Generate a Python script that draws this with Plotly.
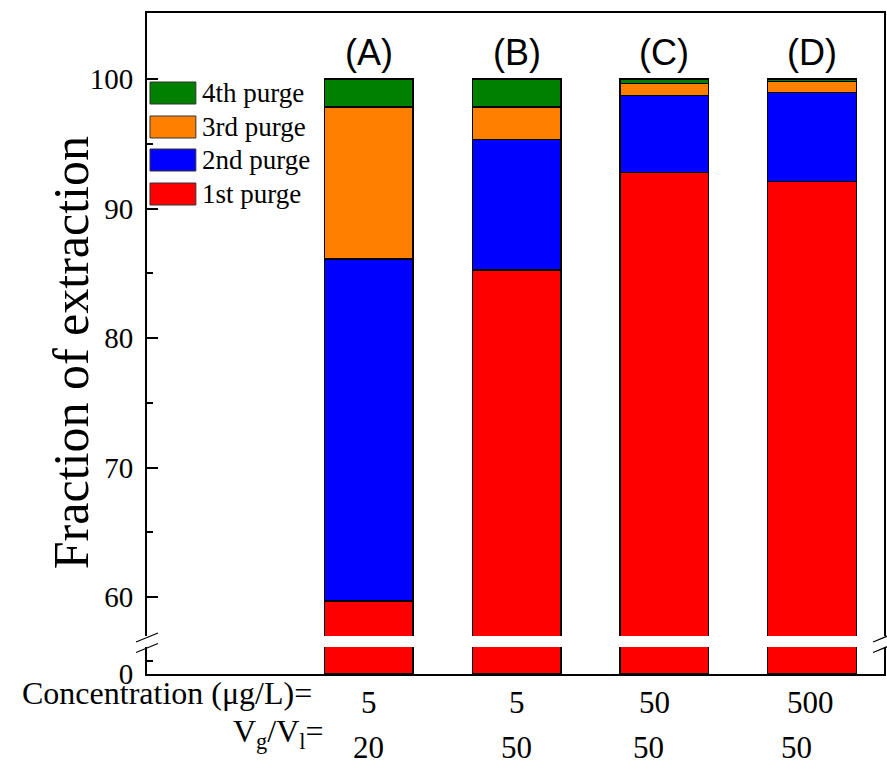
import plotly.graph_objects as go

# Samples and their purge fractions (% of total extracted)
samples = ["(A)", "(B)", "(C)", "(D)"]
concentration = ["5", "5", "50", "500"]
vg_vl = ["20", "50", "50", "50"]

purge_names = ["1st purge", "2nd purge", "3rd purge", "4th purge"]
purge_1 = [59.7, 85.25, 92.8, 92.1]
purge_2 = [26.4, 10.1, 5.95, 6.85]
purge_3 = [11.75, 2.5, 0.92, 0.85]
purge_4 = [2.15, 2.15, 0.33, 0.2]
purge_colors = ["#FF0000", "#0000FF", "#FF8000", "#008000"]

y_ticks_upper = [60, 70, 80, 90, 100]
y_ticks_lower = [0]

x_pos = list(range(1, len(samples) + 1))
purges = [purge_1, purge_2, purge_3, purge_4]

SERIF = "Liberation Serif"
SANS = "Liberation Sans"
W, H = 887, 772
L, R, T, B = 147, 1, 13, 98
PW, PH = W - L - R, H - T - B

def py(pix):
    # pixel row -> paper y
    return (H - B - pix) / PH

def px(pix):
    return (pix - L) / PW

fig = go.Figure()

# upper (broken) panel: full stacks
for name, vals, col in zip(purge_names, purges, purge_colors):
    fig.add_trace(go.Bar(
        x=x_pos, y=vals, name=name, width=0.6,
        marker=dict(color=col, line=dict(color="black", width=1.3)),
        xaxis="x", yaxis="y", showlegend=False,
    ))

# lower panel: only the base segment is visible (0-10 range)
fig.add_trace(go.Bar(
    x=x_pos, y=purge_1, width=0.6,
    marker=dict(color=purge_colors[0], line=dict(color="black", width=1.3)),
    xaxis="x2", yaxis="y2", showlegend=False,
))

lower_top = py(647)
upper_bot = py(636)
xr = [-0.5, 4.486]

axis_common = dict(showgrid=False, zeroline=False, linecolor="black", linewidth=2)

fig.update_layout(
    width=W, height=H,
    margin=dict(l=L, r=R, t=T, b=B),
    paper_bgcolor="white", plot_bgcolor="white",
    barmode="stack", bargap=0.4,
    xaxis=dict(range=xr, domain=[0, 1], anchor="y", side="top", showline=True,
               showticklabels=False, ticks="", **axis_common),
    xaxis2=dict(range=xr, domain=[0, 1], anchor="y2", showline=True,
                showticklabels=False, ticks="", **axis_common),
    yaxis=dict(range=[57, 105.1], domain=[upper_bot, 1], anchor="x",
               showline=True, mirror=True, ticks="inside", ticklen=11, tickwidth=2,
               tickcolor="black", tickvals=y_ticks_upper,
               minor=dict(tickvals=[65, 75, 85, 95], ticks="inside", ticklen=6,
                          tickwidth=2, tickcolor="black"),
               tickfont=dict(family=SERIF, size=29, color="black"),
               ticklabelstandoff=6, **axis_common),
    yaxis2=dict(range=[0, 10], domain=[0, lower_top], anchor="x2",
                showline=True, mirror=True, ticks="inside", ticklen=11, tickwidth=2,
                tickcolor="black", tickvals=y_ticks_lower,
                minor=dict(tickvals=[5], ticks="inside", ticklen=6,
                           tickwidth=2, tickcolor="black"),
                tickfont=dict(family=SERIF, size=29, color="black"),
                ticklabelstandoff=6, **axis_common),
    showlegend=False,
)

ann = []
# sample labels above the bars
for xp, s in zip(x_pos, samples):
    ann.append(dict(x=xp, xref="x", y=py(52), yref="paper", text=s, showarrow=False,
                    xanchor="center", yanchor="middle",
                    font=dict(family=SANS, size=36, color="black")))

# y-axis title
ann.append(dict(x=px(71), xref="paper", y=py(353), yref="paper",
                text="Fraction of extraction", textangle=-90, showarrow=False,
                xanchor="center", yanchor="middle",
                font=dict(family=SERIF, size=50, color="black")))

# condition rows under the axis
ann.append(dict(x=px(314), xref="paper", y=py(693), yref="paper",
                text="Concentration (μg/L)=", showarrow=False,
                xanchor="right", yanchor="middle",
                font=dict(family=SERIF, size=32, color="black")))
ann.append(dict(x=px(326), xref="paper", y=py(733), yref="paper",
                text="V<sub>g</sub>/V<sub>l</sub>=", showarrow=False,
                xanchor="right", yanchor="middle",
                font=dict(family=SERIF, size=32, color="black")))
row1_shift = [0, 0, -10, -2]
row2_shift = [0, 0, -16, -16]
for xp, c, v, s1, s2 in zip(x_pos, concentration, vg_vl, row1_shift, row2_shift):
    ann.append(dict(x=xp, xref="x", xshift=s1, y=py(702), yref="paper", text=c,
                    showarrow=False, xanchor="center", yanchor="middle",
                    font=dict(family=SERIF, size=31, color="black")))
    ann.append(dict(x=xp, xref="x", xshift=s2, y=py(747), yref="paper", text=v,
                    showarrow=False, xanchor="center", yanchor="middle",
                    font=dict(family=SERIF, size=31, color="black")))

# legend drawn as swatches + labels, top entry first
shapes = []
leg_rows = [93, 127, 160, 194]
for row_y, name, col in zip(leg_rows, purge_names[::-1], purge_colors[::-1]):
    shapes.append(dict(type="rect", xref="paper", yref="paper",
                       x0=px(150), x1=px(196), y0=py(row_y + 11), y1=py(row_y - 11),
                       fillcolor=col, line=dict(color="#333333", width=1)))
    ann.append(dict(x=px(200), xref="paper", y=py(row_y), yref="paper", text=name,
                    showarrow=False, xanchor="left", yanchor="middle",
                    font=dict(family=SERIF, size=27, color="black")))

# axis-break marks on both vertical axes
for xc in (147, 886):
    for yc in (637.5, 648):
        shapes.append(dict(type="line", xref="paper", yref="paper",
                           x0=px(xc - 11), y0=py(yc + 4.5), x1=px(xc + 11), y1=py(yc - 4.5),
                           line=dict(color="black", width=1.2)))

fig.update_layout(annotations=ann, shapes=shapes)
fig.write_html("out.html")
